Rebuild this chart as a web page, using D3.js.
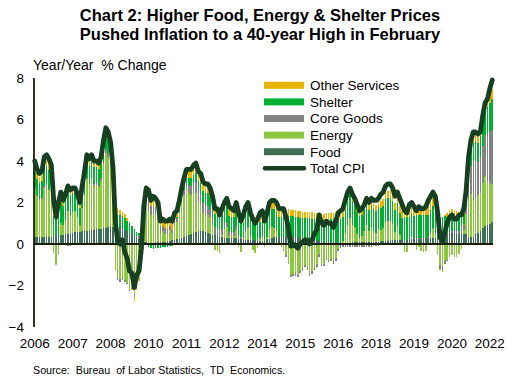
<!DOCTYPE html>
<html>
<head>
<meta charset="utf-8">
<script src="https://cdn.jsdelivr.net/npm/d3@7"></script>
<style>
    body { margin: 0; background: #fff; }
    text { font-family: "Liberation Sans", Arial, sans-serif; fill: #000; }
</style>
</head>
<body>
<script>

// contributions to y/y CPI inflation, percentage points, monthly Jan 2006 - Feb 2022
var food = [
    .35,.35,.35,.35,.34,.34,.34,.35,.38,.40,.40,.42,
    .45,.48,.50,.52,.55,.57,.58,.60,.62,.63,.64,.65,
    .66,.68,.70,.72,.74,.76,.78,.80,.82,.83,.82,.80,
    .78,.75,.70,.62,.55,.48,.40,.32,.25,.18,.12,.08,
    .06,.06,.07,.08,.09,.10,.11,.12,.14,.16,.18,.20,
    .22,.26,.30,.35,.40,.45,.50,.55,.60,.62,.64,.62,
    .58,.55,.50,.45,.42,.38,.35,.33,.31,.30,.30,.29,
    .28,.27,.26,.22,.20,.20,.20,.20,.20,.18,.17,.16,
    .16,.18,.22,.26,.30,.32,.33,.34,.35,.36,.38,.40,
    .38,.36,.34,.32,.30,.28,.26,.25,.24,.22,.20,.18,
    .14,.13,.12,.11,.10,.09,.09,.08,.07,.07,.07,.07,
    .07,.07,.08,.08,.09,.10,.10,.11,.12,.12,.11,.11,
    .11,.12,.13,.14,.15,.16,.17,.18,.19,.19,.19,.20,
    .20,.20,.21,.22,.24,.25,.25,.26,.27,.27,.28,.28,
    .28,.29,.30,.40,.50,.58,.55,.55,.52,.50,.48,.48,
    .50,.50,.48,.33,.32,.33,.48,.52,.64,.75,.85,.90,
    .96,1.04
];

var energy = [
    2.3,1.95,1.75,1.8,2.35,2.45,2.25,1.9,-.45,-1.0,-.45,.6,
    .45,.7,1.1,.9,1.0,1.0,.7,.3,1.1,1.75,2.5,2.25,
    2.47,2.16,2.15,2.05,2.32,3.08,3.62,3.38,2.87,1.71,-1.2,-1.6,
    -1.7,-1.6,-1.75,-1.9,-2.2,-2.1,-2.45,-2.0,-1.7,-.8,1.3,1.8,
    1.55,1.35,1.35,1.3,1.05,.45,.5,.38,.36,.52,.33,.72,
    .86,1.22,1.66,1.99,2.23,2.03,1.86,1.91,1.87,1.4,1.24,.88,
    .8,.85,.78,.45,-.3,-.35,-.45,.1,.4,.5,.1,.05,
    .1,.4,-.15,-.4,-.05,.4,.55,.15,-.3,-.45,-.2,.1,
    .2,-.15,.1,.45,.5,.45,.3,.02,-.1,-.3,-.55,-.9,
    -1.5,-1.45,-1.42,-1.5,-1.28,-1.18,-1.0,-1.15,-1.42,-1.32,-1.15,-.98,
    -.5,-.94,-.95,-.68,-.76,-.71,-.83,-.69,-.22,-.06,.08,.41,
    .84,1.19,.85,.73,.37,.18,.27,.5,.79,.5,.73,.54,
    .43,.6,.55,.62,.91,.94,.94,.8,.37,.69,.24,-.02,
    -.38,-.39,-.03,.13,-.05,-.27,-.16,-.34,-.37,-.33,-.05,.27,
    .45,.2,-.41,-1.0,-1.05,-.8,-.75,-.62,-.55,-.62,-.65,-.5,
    -.26,.18,.96,1.83,2.08,1.79,1.74,1.83,1.81,2.19,2.43,2.14,
    1.97,1.87
];

var coreGoods = [
    .08,.07,.06,.08,.10,.08,.06,.05,.03,.00,-.04,-.06,
    -.06,-.07,-.08,-.08,-.07,-.06,-.05,-.04,-.02,.00,.02,.04,
    .05,.06,.07,.08,.10,.12,.16,.20,.22,.22,-.05,-.12,
    -.15,-.12,-.08,-.05,-.05,-.05,-.05,.05,.15,.25,.35,.42,
    .45,.40,.40,.38,.35,.30,.28,.25,.22,.20,.18,.18,
    .18,.20,.24,.28,.32,.38,.42,.46,.50,.52,.52,.50,
    .48,.45,.42,.40,.38,.35,.32,.30,.28,.26,.24,.22,
    .20,.18,.15,.12,.10,.08,.06,.05,.04,.03,.02,.02,
    .01,.00,-.01,-.02,-.03,-.03,-.03,-.04,-.05,-.06,-.07,-.08,
    -.08,-.09,-.10,-.10,-.11,-.12,-.12,-.12,-.12,-.12,-.12,-.12,
    -.12,-.12,-.12,-.11,-.11,-.11,-.11,-.12,-.12,-.13,-.13,-.13,
    -.13,-.14,-.14,-.14,-.15,-.15,-.15,-.15,-.14,-.14,-.13,-.12,
    -.10,-.08,-.06,-.04,-.02,.00,.01,.02,.02,.02,.01,.01,
    .01,.01,.01,.02,.03,.03,.03,.04,.04,.04,.04,.04,
    .03,.02,-.05,-.20,-.22,-.15,-.05,.05,.10,.12,.14,.15,
    .36,.27,.36,.92,1.37,1.9,1.83,1.6,1.72,1.76,1.97,2.25,
    2.46,2.58
];

var shelter = [
    .75,.78,.80,.82,.85,.88,.90,.92,.92,.92,.95,.95,
    .95,.95,.93,.92,.90,.88,.86,.85,.84,.84,.84,.84,
    .82,.80,.78,.75,.72,.70,.68,.66,.65,.64,.63,.62,
    .60,.58,.55,.50,.45,.40,.30,.20,.12,.05,.00,-.05,
    -.15,-.20,-.22,-.18,-.20,-.20,-.15,-.14,-.13,-.10,-.08,-.02,
    .02,.08,.14,.20,.25,.32,.38,.42,.45,.48,.52,.55,
    .58,.60,.62,.64,.66,.68,.68,.68,.70,.70,.72,.72,
    .72,.74,.74,.72,.72,.74,.75,.77,.78,.78,.79,.80,
    .82,.84,.86,.88,.90,.91,.92,.93,.94,.95,.96,.96,
    .96,.97,.97,.97,.97,.97,.99,.99,1.0,1.0,1.0,1.0,
    1.0,1.02,1.04,1.06,1.08,1.10,1.10,1.12,1.12,1.12,1.14,1.14,
    1.13,1.13,1.12,1.10,1.08,1.07,1.05,1.06,1.06,1.04,1.04,1.04,
    1.04,1.05,1.07,1.09,1.12,1.10,1.10,1.08,1.06,1.06,1.06,1.06,
    1.06,1.10,1.10,1.10,1.08,1.10,1.10,1.10,1.10,1.08,1.08,1.05,
    1.05,.98,.97,.85,.82,.79,.75,.75,.72,.66,.66,.60,
    .52,.50,.56,.68,.72,.84,.90,.92,1.04,1.14,1.24,1.32,
    1.42,1.52
];

var otherServices = [
    .28,.26,.25,.26,.30,.32,.32,.30,.25,.22,.25,.28,
    .25,.26,.27,.27,.27,.27,.26,.25,.26,.28,.30,.30,
    .30,.30,.30,.30,.32,.34,.36,.36,.34,.30,.30,.30,
    .25,.22,.18,.12,.05,-.05,-.25,-.20,-.10,.05,.15,.25,
    .45,.40,.38,.36,.35,.32,.30,.30,.30,.30,.30,.32,
    .32,.34,.36,.38,.40,.42,.44,.46,.48,.48,.48,.45,
    .42,.40,.38,.36,.34,.32,.30,.30,.30,.30,.30,.30,
    .30,.32,.32,.30,.30,.30,.30,.30,.30,.30,.30,.30,
    .30,.30,.30,.32,.32,.32,.32,.32,.32,.32,.32,.32,
    .32,.32,.32,.32,.32,.30,.30,.30,.30,.30,.30,.30,
    .30,.30,.30,.30,.30,.30,.30,.32,.32,.32,.32,.34,
    .34,.34,.32,.30,.28,.28,.28,.28,.28,.30,.30,.30,
    .32,.32,.34,.34,.36,.36,.36,.36,.34,.34,.34,.34,
    .36,.36,.38,.40,.40,.38,.38,.38,.38,.40,.42,.44,
    .45,.42,.30,-.05,-.08,.05,.20,.30,.35,.30,.30,.30,
    .25,.22,.22,.35,.45,.50,.45,.40,.35,.38,.35,.35,
    .40,.45
];

var totalCPI = [
    4.0,3.6,3.4,3.5,4.2,4.3,4.1,3.8,2.1,1.3,2.0,2.5,
    2.1,2.4,2.8,2.6,2.7,2.7,2.4,2.0,2.8,3.5,4.3,4.1,
    4.3,4.0,4.0,3.9,4.2,5.0,5.6,5.4,4.9,3.7,1.1,0.1,
    0.0,0.2,-0.4,-0.7,-1.3,-1.4,-2.1,-1.5,-1.3,-0.2,1.8,2.7,
    2.6,2.1,2.3,2.2,2.0,1.1,1.2,1.1,1.1,1.2,1.1,1.5,
    1.6,2.1,2.7,3.2,3.6,3.6,3.6,3.8,3.9,3.5,3.4,3.0,
    2.9,2.9,2.7,2.3,1.7,1.7,1.4,1.7,2.0,2.2,1.8,1.7,
    1.6,2.0,1.5,1.1,1.4,1.8,2.0,1.5,1.2,1.0,1.2,1.5,
    1.6,1.1,1.5,2.0,2.1,2.1,2.0,1.7,1.7,1.7,1.3,0.8,
    -0.1,0.0,-0.1,-0.2,0.0,0.1,0.2,0.2,0.0,0.2,0.5,0.7,
    1.4,1.0,0.9,1.1,1.0,1.0,0.8,1.1,1.5,1.6,1.7,2.1,
    2.5,2.7,2.4,2.2,1.9,1.6,1.7,1.9,2.2,2.0,2.2,2.1,
    2.1,2.2,2.4,2.5,2.8,2.9,2.9,2.7,2.3,2.5,2.2,1.9,
    1.6,1.5,1.9,2.0,1.8,1.6,1.8,1.7,1.7,1.8,2.1,2.3,
    2.5,2.3,1.5,0.3,0.1,0.6,1.0,1.3,1.4,1.2,1.2,1.4,
    1.4,1.7,2.6,4.2,5.0,5.4,5.4,5.3,5.4,6.2,6.8,7.0,
    7.5,7.9
];

// x axis shows a label every 16 months, starting Jan 2006
var tickLabels = ["2006", "2007", "2008", "2010", "2011", "2012", "2014",
    "2015", "2016", "2018", "2019", "2020", "2022"];
var yTicks = [-4, -2, 0, 2, 4, 6, 8];

var seriesKeys = ["food", "energy", "coreGoods", "shelter", "otherServices"];
var seriesNames = {food: "Food", energy: "Energy", coreGoods: "Core Goods",
    shelter: "Shelter", otherServices: "Other Services"};
var colors = {food: "#3e6d58", energy: "#8dc63f", coreGoods: "#828282",
    shelter: "#00b031", otherServices: "#e9b300"};
var lineColor = "#173f22";
var axisColor = "#1c1f0e";

var months = d3.timeMonth.range(new Date(2006, 0, 1), new Date(2022, 2, 1))
    .map(d3.timeFormat("%Y-%m"));

var table = months.map(function(m, i) {
    return {month: m, food: food[i], energy: energy[i], coreGoods: coreGoods[i],
        shelter: shelter[i], otherServices: otherServices[i], total: totalCPI[i]};
});

var width = 519, height = 385;

var svg = d3.select("body").append("svg")
    .attr("width", width)
    .attr("height", height);

var x = d3.scaleBand().domain(months).range([34, 493]).paddingInner(0.36);
var y = d3.scaleLinear().domain([-4, 8]).range([327, 78]);

// title
svg.append("text")
    .attr("x", 260).attr("y", 21)
    .attr("text-anchor", "middle")
    .style("font-size", "16.5px").style("font-weight", "bold")
    .text("Chart 2: Higher Food, Energy & Shelter Prices");
svg.append("text")
    .attr("x", 260).attr("y", 39.5)
    .attr("text-anchor", "middle")
    .style("font-size", "16.5px").style("font-weight", "bold")
    .text("Pushed Inflation to a 40-year High in February");

svg.append("text")
    .attr("x", 33).attr("y", 70)
    .style("font-size", "14px")
    .attr("xml:space", "preserve")
    .text("Year/Year  % Change");

// stacked bars, negatives stack below zero
var stacked = d3.stack().keys(seriesKeys).offset(d3.stackOffsetDiverging)(table);

svg.append("g")
    .selectAll("g")
    .data(stacked)
    .enter().append("g")
    .attr("fill", function(d) { return colors[d.key]; })
    .selectAll("rect")
    .data(function(d) { return d; })
    .enter().append("rect")
    .attr("shape-rendering", "crispEdges")
    .attr("x", function(d) { return x(d.data.month); })
    .attr("width", x.bandwidth())
    .attr("y", function(d) { return y(d[1]); })
    .attr("height", function(d) { return Math.max(0, y(d[0]) - y(d[1])); });

// axes
var yAxis = svg.append("g")
    .attr("transform", "translate(34,0)")
    .call(d3.axisLeft(y).tickValues(yTicks).tickSize(0).tickPadding(10).tickFormat(d3.format("d")));
yAxis.select(".domain").remove();
yAxis.selectAll("text")
    .style("font-size", "13.5px")
    .style("font-family", "'Liberation Sans', Arial, sans-serif");

svg.append("line")
    .attr("x1", 34).attr("x2", 34)
    .attr("y1", y(8)).attr("y2", y(-4))
    .attr("stroke", axisColor).attr("stroke-width", 1.8);

svg.append("line")
    .attr("x1", 34).attr("x2", 493)
    .attr("y1", y(0)).attr("y2", y(0))
    .attr("stroke", axisColor).attr("stroke-width", 1.8);

svg.append("g")
    .selectAll("text")
    .data(tickLabels)
    .enter().append("text")
    .attr("x", function(d, i) { return x(months[i * 16]) + x.bandwidth() / 2; })
    .attr("y", 348)
    .attr("text-anchor", "middle")
    .style("font-size", "13.5px")
    .text(function(d) { return d; });

// total CPI line
var line = d3.line()
    .x(function(d) { return x(d.month) + x.bandwidth() / 2; })
    .y(function(d) { return y(d.total); });

svg.append("path")
    .datum(table)
    .attr("fill", "none")
    .attr("stroke", lineColor)
    .attr("stroke-width", 4.8)
    .attr("stroke-linejoin", "round")
    .attr("stroke-linecap", "round")
    .attr("d", line);

// legend
var legendItems = seriesKeys.slice().reverse().concat(["total"]);
var legend = svg.append("g")
    .selectAll("g")
    .data(legendItems)
    .enter().append("g")
    .attr("transform", function(d, i) { return "translate(264," + (85.3 + i * 16.6) + ")"; });

legend.filter(function(d) { return d !== "total"; })
    .append("rect")
    .attr("x", 0).attr("y", -3.5)
    .attr("width", 40).attr("height", 7)
    .attr("fill", function(d) { return colors[d]; });

legend.filter(function(d) { return d === "total"; })
    .append("line")
    .attr("x1", 1).attr("x2", 40)
    .attr("stroke", lineColor)
    .attr("stroke-width", 4.5)
    .attr("stroke-linecap", "round");

legend.append("text")
    .attr("x", 46)
    .attr("dy", "0.36em")
    .style("font-size", "13.5px")
    .text(function(d) { return d === "total" ? "Total CPI" : seriesNames[d]; });

svg.append("text")
    .attr("x", 33).attr("y", 374)
    .style("font-size", "10.7px")
    .attr("xml:space", "preserve")
    .text("Source:  Bureau  of Labor Statistics,  TD  Economics.");

</script>
</body>
</html>
